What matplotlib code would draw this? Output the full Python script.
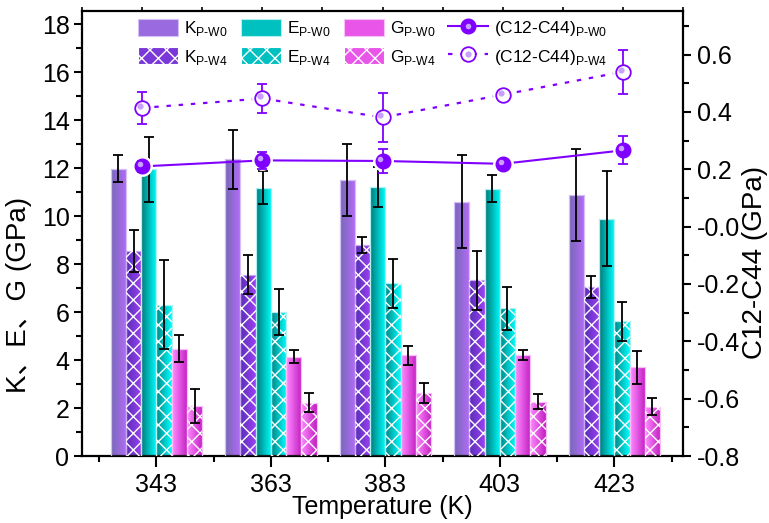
import numpy as np
import matplotlib
matplotlib.use('Agg')
import matplotlib.pyplot as plt
from matplotlib.colors import LinearSegmentedColormap
from matplotlib.patches import Patch
from matplotlib.lines import Line2D
from matplotlib.transforms import offset_copy

plt.rcParams['font.family'] = ['Liberation Sans', 'Noto Sans CJK SC']
plt.rcParams['mathtext.fontset'] = 'custom'
plt.rcParams['mathtext.rm'] = 'Liberation Sans'
plt.rcParams['hatch.linewidth'] = 1.0

# data
temps = ['343', '363', '383', '403', '423']
K_w0 = [11.98, 12.36, 11.50, 10.60, 10.87]
K_w0_err = [0.55, 1.23, 1.50, 1.95, 1.92]
K_w4 = [8.53, 7.56, 8.79, 7.32, 7.05]
K_w4_err = [0.88, 0.80, 0.34, 1.24, 0.47]
E_w0 = [11.95, 11.19, 11.21, 11.15, 9.89]
E_w0_err = [1.35, 0.67, 0.85, 0.57, 1.99]
E_w4 = [6.31, 6.00, 7.21, 6.15, 5.61]
E_w4_err = [1.85, 0.96, 1.02, 0.88, 0.82]
G_w0 = [4.47, 4.14, 4.19, 4.22, 3.69]
G_w0_err = [0.57, 0.28, 0.40, 0.20, 0.70]
G_w4 = [2.10, 2.23, 2.62, 2.27, 2.06]
G_w4_err = [0.71, 0.40, 0.41, 0.31, 0.35]
C_w0 = [0.210, 0.231, 0.229, 0.219, 0.266]
C_w0_err = [0.02, 0.03, 0.042, 0.01, 0.049]
C_w4 = [0.414, 0.447, 0.381, 0.460, 0.540]
C_w4_err = [0.056, 0.05, 0.086, 0.01, 0.077]

purple = '#8000ff'

fig = plt.figure(figsize=(7.69, 5.23), dpi=100)
ax = fig.add_axes([82/769, 1-456/523, 601/769, 445/523])
ax2 = fig.add_axes(ax.get_position(), facecolor='none')

x = np.arange(len(temps))
w = 0.8/6


def grad_bars(pos, vals, errs, c1, c2, edge, hatch=None):
    cmap = LinearSegmentedColormap.from_list('g', [c1, c2])
    grad = np.linspace(0, 1, 64).reshape(1, -1)
    bars = ax.bar(pos, vals, width=w, color='none', edgecolor=edge, linewidth=0.9, zorder=3)
    for b in bars:
        x0 = b.get_x()
        im = ax.imshow(grad, cmap=cmap, aspect='auto', interpolation='bilinear',
                       extent=[x0, x0+b.get_width(), 0, b.get_height()], zorder=2)
        im.set_clip_path(b)
    if hatch:
        ax.bar(pos, vals, width=w, color='none', edgecolor='white', hatch=hatch,
               linewidth=0, zorder=3)
    ax.errorbar(pos, vals, yerr=errs, fmt='none', ecolor='black', elinewidth=1.3,
                capsize=3.5, capthick=1.3, zorder=4)


series = [
    (K_w0, K_w0_err, '#7668b8', '#b56cf8', '#d4c0f5', None),
    (K_w4, K_w4_err, '#5530b5', '#9f40f5', '#c8a8f0', 'xx'),
    (E_w0, E_w0_err, '#007a7a', '#00ffff', '#b0f0f0', None),
    (E_w4, E_w4_err, '#008585', '#00ffff', '#b0f0f0', 'xx'),
    (G_w0, G_w0_err, '#ff8cff', '#c21ec2', '#f8c0f8', None),
    (G_w4, G_w4_err, '#ff8cff', '#c21ec2', '#f8c0f8', 'xx'),
]
for i, (v, e, c1, c2, ed, h) in enumerate(series):
    grad_bars(x + (i - 2.5)*w, v, e, c1, c2, ed, h)

ax.set_xlim(-0.65, 4.6)
ax.set_ylim(0, 18.55)
ax.set_xticks(x)
ax.set_xticklabels(temps)
ax.set_xticks(np.arange(-0.5, 4.6, 1), minor=True)
ax.set_yticks(np.arange(0, 19, 2))
ax.set_yticks(np.arange(1, 19, 2), minor=True)
ax.tick_params(axis='both', which='major', direction='out', width=1.5, labelsize=18)
ax.tick_params(axis='x', which='major', length=8, pad=4)
ax.tick_params(axis='x', which='minor', length=4, width=1.5)
ax.tick_params(axis='y', which='major', length=6, pad=3)
ax.tick_params(axis='y', which='minor', length=4, width=1.5)
for s in ['top', 'right']:
    ax.spines[s].set_visible(False)
for s in ['left', 'bottom']:
    ax.spines[s].set_linewidth(1.6)
ax.set_xlabel('Temperature (K)', fontsize=18, labelpad=-1)
ax.set_ylabel('K、E、G (GPa)', fontsize=20)
ax.yaxis.set_label_coords(-0.083, 0.362)

# line layer
hl = offset_copy(ax2.transData, fig=fig, x=-1.5, y=1.5, units='points')
ax2.plot(x, C_w0, color=purple, lw=1.5, zorder=3)
ax2.plot(x, C_w0, 'o', ms=14, color='white', zorder=4)
ax2.errorbar(x, C_w0, yerr=C_w0_err, fmt='none', ecolor=purple, elinewidth=1.3,
             capsize=3.5, capthick=1.3, zorder=5)
ax2.plot(x, C_w0, 'o', ms=10.5, color=purple, zorder=6)
ax2.plot(x, C_w0, 'o', ms=4, color='#c8a0ff', mec='none', zorder=7, transform=hl)

ax2.plot(x, C_w4, color=purple, lw=1.6, ls=(0, (2, 3.5)), zorder=3)
ax2.plot(x, C_w4, 'o', ms=14, color='white', zorder=4)
ax2.errorbar(x, C_w4, yerr=C_w4_err, fmt='none', ecolor=purple, elinewidth=1.3,
             capsize=3.5, capthick=1.3, zorder=5)
ax2.plot(x, C_w4, 'o', ms=10.5, mfc='white', mec=purple, mew=1.3, zorder=6)
ax2.plot(x, C_w4, 'o', ms=4.5, color='#c8a0ff', mec='none', zorder=7, transform=hl)

ax2.set_xlim(-0.5, 4.5)
ax2.set_ylim(-0.8, 0.752)
ax2.xaxis.tick_top()
ax2.set_xticks(np.arange(-0.5, 4.6, 0.5))
ax2.tick_params(axis='x', direction='out', length=3, width=1.2, labeltop=False)
ax2.yaxis.tick_right()
ax2.yaxis.set_label_position('right')
ax2.set_yticks(np.arange(-0.8, 0.61, 0.2))
ax2.set_yticks(np.arange(-0.7, 0.71, 0.2), minor=True)
ax2.yaxis.set_major_formatter(matplotlib.ticker.FormatStrFormatter('%.1f'))
ax2.tick_params(axis='y', which='major', direction='out', length=6, width=1.5,
                labelsize=18, pad=4)
ax2.tick_params(axis='y', which='minor', direction='out', length=4, width=1.5)
for s in ['left', 'bottom']:
    ax2.spines[s].set_visible(False)
for s in ['right', 'top']:
    ax2.spines[s].set_linewidth(1.6)
ax2.set_ylabel('C12-C44 (GPa)', fontsize=20)
ax2.yaxis.set_label_coords(1.099, 0.436)

# legend
mids = ['#9a6ae0', '#7a38d8', '#00c0c0', '#00c0c0', '#e855e8', '#e855e8']
edges = ['#d4c0f5', 'white', '#b0f0f0', 'white', '#f8c0f8', 'white']
handles = []
for m, ed, s in zip(mids, edges, series):
    handles.append(Patch(facecolor=m, edgecolor=ed, hatch=s[5], linewidth=0.8))
h_w0 = (Line2D([], [], color=purple, lw=1.5, marker='o', ms=10.5),
        Line2D([], [], ls='none', marker='o', ms=4, color='#c8a0ff', mec='none'))
h_w4 = (Line2D([], [], color=purple, lw=1.6, ls=(0, (2, 3.5)), marker='o', ms=10.5,
               mfc='white', mec=purple, mew=1.3),
        Line2D([], [], ls='none', marker='o', ms=4.5, color='#c8a0ff', mec='none'))
handles += [h_w0, h_w4]
sub = lambda s: '$_{\\mathregular{%s}}$' % s.replace('-', '\u2010')
labels = ['K' + sub('P-W0'), 'K' + sub('P-W4'),
          'E' + sub('P-W0'), 'E' + sub('P-W4'),
          'G' + sub('P-W0'), 'G' + sub('P-W4'),
          '(C12-C44)' + sub('P-W0'), '(C12-C44)' + sub('P-W4')]
fig.legend(handles, labels, ncol=4, loc='upper left', bbox_to_anchor=(138/769, 1-19/523),
           frameon=False, fontsize=12.5, handlelength=2.3, handleheight=1.15,
           handletextpad=0.35, columnspacing=0.75, labelspacing=0.5,
           borderpad=0, borderaxespad=0)

fig.savefig('out.png', dpi=100)
